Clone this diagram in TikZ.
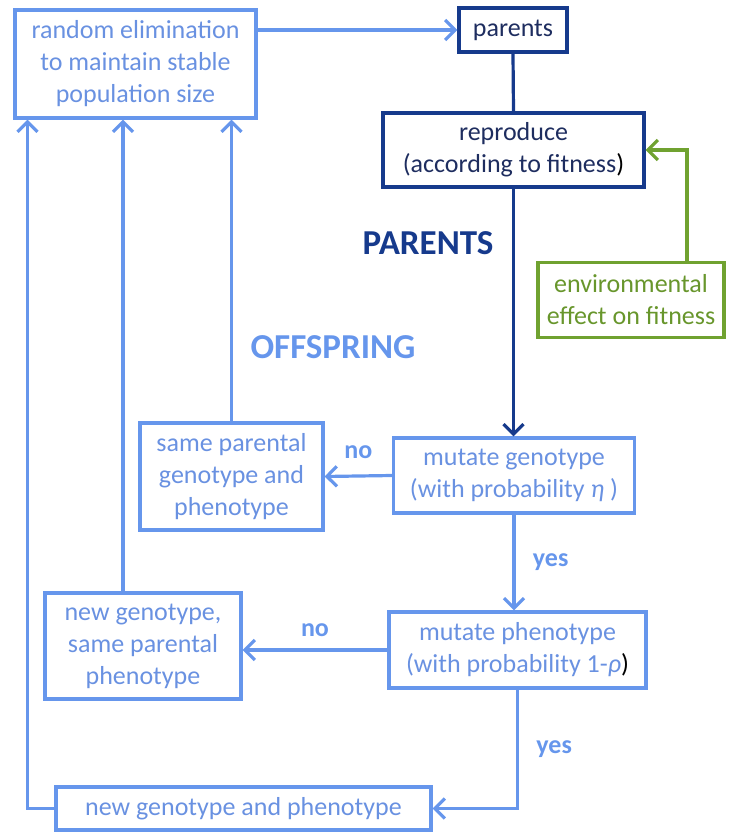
\documentclass[tikz,border=0pt]{standalone}
\usepackage{fontspec}
\setmainfont{Carlito}
\usetikzlibrary{arrows.meta}
\definecolor{lblue}{RGB}{102,150,236}
\definecolor{ltext}{RGB}{105,145,225}
\definecolor{dblue}{RGB}{22,58,140}
\definecolor{dtext}{RGB}{30,45,95}
\definecolor{grn}{RGB}{112,162,48}
\definecolor{gtext}{RGB}{104,150,44}
\tikzset{
  box/.style={draw=lblue, line width=3.2pt, text=ltext, align=center, inner sep=0pt, font=\fontsize{26}{32}\selectfont},
  dbox/.style={box, draw=dblue, text=dtext},
  gbox/.style={box, draw=grn, text=gtext},
  arr/.style={draw=lblue, line width=3.2pt, -{Straight Barb[length=10pt,width=20pt]}},
  lbl/.style={text=lblue, font=\fontsize{26}{32}\selectfont\bfseries},
  head/.style={font=\fontsize{35}{40}\selectfont\bfseries}
}

\begin{document}
\begin{tikzpicture}[x=1pt,y=-1pt]
        \useasboundingbox (0,0) rectangle (730,833);

        %boxes
        \node[box, minimum width=241, minimum height=108] (elim) at (135.5,64) {random elimination\\to maintain stable\\population size};
        \node[dbox, minimum width=108, minimum height=44] (par) at (513,30) {parents};
        \node[dbox, minimum width=261, minimum height=74] (repr) at (513.5,150) {reproduce\\(according to fitness{\color{black})}};
        \node[gbox, minimum width=186, minimum height=75] (env) at (631,300) {environmental\\effect on fitness};
        \node[box, minimum width=241, minimum height=75] (mgeno) at (514,475.5) {mutate genotype\\(with probability \textit{η} )};
        \node[box, minimum width=183, minimum height=107] (same) at (231.5,476.5) {same parental\\genotype and\\phenotype};
        \node[box, minimum width=257, minimum height=76] (mpheno) at (517.5,650) {mutate phenotype\\(with probability 1-\textit{ρ}{\color{black})}};
        \node[box, minimum width=196, minimum height=106] (newg) at (143,646) {new genotype,\\same parental\\phenotype};
        \node[box, minimum width=375, minimum height=43] (newgp) at (243.5,808.5) {new genotype and phenotype};

        %labels
        \node[head, text=dblue] (lpar) at (428,243) {PARENTS};
        \node[head, text=lblue] (loff) at (333,347) {OFFSPRING};

        %edges
        \draw[arr] (elim.east |- par.west) -- (par.west);
        \draw[dblue, line width=3.2pt] (par.south) -- (repr.north);
        \draw[arr, draw=dblue] (repr.south) -- (repr.south |- mgeno.north);
        \draw[arr, draw=grn] ([xshift=56pt]env.north) |- (repr.east);
        \draw[arr] (mgeno.west) -- node[lbl, above=12pt] (lno1) {no} (same.east);
        \draw[arr] (same.north) -- (same.north |- elim.south);
        \draw[arr] (mgeno.south) -- node[lbl, right=14pt] (lyes1) {yes} (mgeno.south |- mpheno.north);
        \draw[arr] (mpheno.west) -- node[lbl, above=8pt] (lno2) {no} (mpheno.west -| newg.east);
        \draw[arr] ([xshift=-20pt]newg.north) -- ([xshift=-20pt]newg.north |- elim.south);
        \draw[arr] (mpheno.south) |- node[lbl, pos=0.25, right=14pt] (lyes2) {yes} (newgp.east);
        \draw[arr] (newgp.west) -| ([xshift=14pt]elim.south west);

\end{tikzpicture}
\end{document}
